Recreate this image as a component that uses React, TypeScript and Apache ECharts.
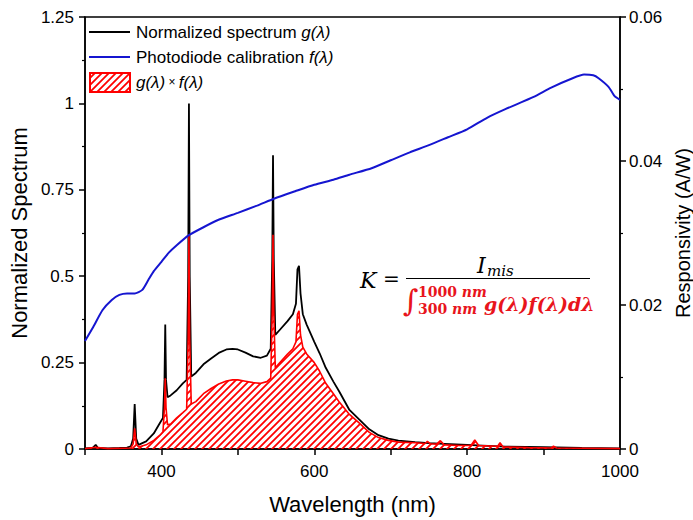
import React, { useEffect, useRef } from 'react';
import * as echarts from 'echarts';

// Normalized spectrum g(λ) (left axis)
const specWl = [300, 310, 314, 317, 330, 345, 355, 360, 363, 365, 367, 370, 380, 390, 398, 402, 404, 405, 406, 408, 412, 420, 428, 433, 435, 436, 437, 439, 445, 455, 465, 475, 485, 493, 500, 510, 520, 530, 538, 543, 545, 546, 547, 549, 555, 565, 572, 576, 578, 580, 582, 585, 590, 600, 607, 615, 625, 633, 646, 659, 672, 684, 697, 710, 732, 750, 770, 800, 820, 850, 900, 950, 1000];
const specVal = [0.002, 0.003, 0.012, 0.003, 0.002, 0.003, 0.004, 0.008, 0.03, 0.13, 0.03, 0.012, 0.022, 0.045, 0.075, 0.09, 0.2, 0.36, 0.2, 0.15, 0.155, 0.17, 0.19, 0.2, 0.5, 1.0, 0.5, 0.21, 0.22, 0.245, 0.262, 0.278, 0.288, 0.29, 0.288, 0.279, 0.268, 0.264, 0.27, 0.29, 0.55, 0.85, 0.55, 0.33, 0.345, 0.37, 0.39, 0.42, 0.52, 0.53, 0.45, 0.39, 0.36, 0.31, 0.277, 0.235, 0.195, 0.165, 0.113, 0.085, 0.057, 0.04, 0.03, 0.024, 0.02, 0.017, 0.015, 0.012, 0.01, 0.007, 0.005, 0.003, 0.002];

// Product g(λ)×f(λ) (left axis units)
const prodWl = [300, 314, 330, 360, 363, 365, 367, 370, 380, 390, 398, 402, 404, 405, 406, 408, 412, 420, 428, 433, 435, 436, 437, 439, 445, 455, 465, 475, 485, 493, 500, 510, 520, 530, 538, 543, 545, 546, 547, 549, 555, 565, 572, 576, 578, 580, 582, 585, 590, 600, 607, 615, 625, 633, 646, 659, 672, 684, 697, 710, 732, 745, 748, 752, 760, 765, 770, 790, 805, 810, 815, 840, 843, 847, 880, 910, 913, 917, 950, 1000];
const prodVal = [0.001, 0.005, 0.001, 0.003, 0.015, 0.06, 0.015, 0.006, 0.012, 0.025, 0.04, 0.05, 0.12, 0.205, 0.12, 0.07, 0.072, 0.09, 0.105, 0.115, 0.32, 0.62, 0.32, 0.13, 0.137, 0.16, 0.175, 0.188, 0.197, 0.2, 0.2, 0.196, 0.192, 0.19, 0.195, 0.205, 0.4, 0.62, 0.4, 0.235, 0.25, 0.275, 0.29, 0.31, 0.39, 0.4, 0.33, 0.295, 0.275, 0.25, 0.225, 0.19, 0.16, 0.135, 0.1, 0.075, 0.048, 0.033, 0.025, 0.02, 0.018, 0.016, 0.022, 0.015, 0.014, 0.024, 0.012, 0.01, 0.01, 0.026, 0.01, 0.008, 0.018, 0.006, 0.004, 0.003, 0.008, 0.003, 0.002, 0.001];

// Photodiode calibration f(λ) (right axis, A/W)
const respWl = [300, 310, 323, 335, 345, 355, 365, 375, 383, 390, 400, 410, 420, 436, 455, 474, 500, 525, 548, 575, 600, 625, 646, 675, 700, 725, 750, 775, 800, 826, 850, 887, 910, 938, 953, 965, 972, 985, 993, 1000];
const respVal = [0.015, 0.0168, 0.0193, 0.0207, 0.0214, 0.0216, 0.0216, 0.0221, 0.0235, 0.0247, 0.026, 0.0273, 0.0283, 0.0297, 0.0308, 0.0318, 0.0328, 0.0338, 0.0348, 0.0358, 0.0367, 0.0374, 0.0381, 0.039, 0.0401, 0.0412, 0.0422, 0.0433, 0.0444, 0.046, 0.0472, 0.0489, 0.0502, 0.0515, 0.052, 0.0519, 0.0515, 0.0503, 0.049, 0.0485];

const legendNames = ['Normalized spectrum ', 'Photodiode calibration '];

const FONT = '"Liberation Sans", Arial, sans-serif';
const SERIF = '"DejaVu Serif", "Liberation Serif", serif';
const RED = '#ff0000';
const FRED = '#e8141c';
const BLUE = '#1515d0';

export default function App() {
  const ref = useRef<HTMLDivElement>(null);
  useEffect(() => {
    document.body.style.margin = '0';
    const el = ref.current!;
    const chart = echarts.init(el, null, { renderer: 'svg', width: 693, height: 520 });

    const cv = document.createElement('canvas');
    const S = 7;
    cv.width = S;
    cv.height = S;
    const ctx = cv.getContext('2d')!;
    ctx.strokeStyle = RED;
    ctx.lineWidth = 1.8;
    ctx.beginPath();
    ctx.moveTo(0, S); ctx.lineTo(S, 0);
    ctx.moveTo(-1, 1); ctx.lineTo(1, -1);
    ctx.moveTo(S - 1, S + 1); ctx.lineTo(S + 1, S - 1);
    ctx.stroke();
    const hatch: any = { image: cv, repeat: 'repeat', imageWidth: S, imageHeight: S };

    const zip = (a: number[], b: number[]) => a.map((v, i) => [v, b[i]]);

    const axisCommon = {
      axisLine: { show: true, lineStyle: { color: '#000', width: 1.5 } },
      axisTick: { show: true, length: 6, lineStyle: { color: '#000', width: 1.5 } },
      minorTick: { show: true, splitNumber: 2, length: 3, lineStyle: { color: '#000', width: 1.2 } },
      splitLine: { show: false },
      minorSplitLine: { show: false },
      axisLabel: { color: '#000', fontSize: 17, fontFamily: FONT },
      nameTextStyle: { color: '#000', fontSize: 22, fontFamily: FONT },
    };

    const option: any = {
      animation: false,
      textStyle: { fontFamily: FONT },
      grid: {
        left: 85, right: 73, top: 17, bottom: 71, containLabel: false, outerBoundsMode: 'none',
        show: true, borderColor: '#000', borderWidth: 1.5, backgroundColor: 'transparent',
      },
      xAxis: {
        type: 'value', min: 300, max: 1000, interval: 100,
        ...axisCommon,
        minorTick: { show: false },
        axisLabel: { ...axisCommon.axisLabel, margin: 14, formatter: (v: number) => (v % 200 === 0 ? String(v) : '') },
        name: 'Wavelength (nm)', nameLocation: 'middle', nameGap: 44,
      },
      yAxis: [
        {
          type: 'value', min: 0, max: 1.25, interval: 0.25, position: 'left',
          ...axisCommon,
          axisLabel: { ...axisCommon.axisLabel, margin: 11 },
          name: 'Normalized Spectrum', nameLocation: 'middle', nameGap: 52,
        },
        {
          type: 'value', min: 0, max: 0.06, interval: 0.02, position: 'right',
          ...axisCommon,
          axisLabel: { ...axisCommon.axisLabel, margin: 9 },
          name: 'Responsivity (A/W)', nameLocation: 'middle', nameGap: 43,
          nameTextStyle: { color: '#000', fontSize: 20, fontFamily: FONT },
        },
      ],
      series: [
        {
          type: 'line', name: 'g', yAxisIndex: 0, data: zip(specWl, specVal), showSymbol: false,
          lineStyle: { color: '#000', width: 1.8 }, z: 2,
        },
        {
          type: 'line', name: 'gf', yAxisIndex: 0, data: zip(prodWl, prodVal), showSymbol: false,
          lineStyle: { color: RED, width: 1.6 }, areaStyle: { color: hatch, opacity: 1, origin: 'start' }, z: 3,
        },
        {
          type: 'line', name: 'f', yAxisIndex: 1, data: zip(respWl, respVal), showSymbol: false, smooth: 0.2,
          lineStyle: { color: BLUE, width: 2 }, z: 4,
        },
      ],
      graphic: [
        { type: 'line', shape: { x1: 89, y1: 32, x2: 130, y2: 32 }, style: { stroke: '#000', lineWidth: 2 } },
        {
          type: 'text', x: 136, y: 32,
          style: {
            text: '{n|' + legendNames[0] + '}{i|g(λ)}', verticalAlign: 'middle',
            rich: { n: { fontSize: 17, fontFamily: FONT, fill: '#000' }, i: { fontSize: 17, fontFamily: FONT, fontStyle: 'italic', fill: '#000' } },
          },
        },
        { type: 'line', shape: { x1: 89, y1: 57, x2: 130, y2: 57 }, style: { stroke: BLUE, lineWidth: 2 } },
        {
          type: 'text', x: 136, y: 57,
          style: {
            text: '{n|' + legendNames[1] + '}{i|f(λ)}', verticalAlign: 'middle',
            rich: { n: { fontSize: 17, fontFamily: FONT, fill: '#000' }, i: { fontSize: 17, fontFamily: FONT, fontStyle: 'italic', fill: '#000' } },
          },
        },
        { type: 'rect', shape: { x: 90, y: 73, width: 40, height: 19 }, style: { fill: hatch, stroke: RED, lineWidth: 2 } },
        {
          type: 'text', x: 136, y: 82,
          style: {
            text: '{i|g(λ)}{x| × }{i|f(λ)}', verticalAlign: 'middle',
            rich: { i: { fontSize: 17, fontFamily: FONT, fontStyle: 'italic', fill: '#000' }, x: { fontSize: 12, fontFamily: FONT, fill: '#000' } },
          },
        },
        // formula
        { type: 'text', x: 360, y: 280, style: { text: 'K', font: 'italic 22px ' + SERIF, fill: '#000', verticalAlign: 'middle' } },
        { type: 'text', x: 383, y: 279, style: { text: '=', font: '20px ' + SERIF, fill: '#000', verticalAlign: 'middle' } },
        { type: 'line', shape: { x1: 406, y1: 278.5, x2: 590, y2: 278.5 }, style: { stroke: '#000', lineWidth: 1 } },
        { type: 'text', x: 477, y: 265, style: { text: 'I', font: 'italic 22px ' + SERIF, fill: '#000', verticalAlign: 'middle' } },
        { type: 'text', x: 487, y: 271, style: { text: 'mis', font: 'italic 15px ' + SERIF, fill: '#000', verticalAlign: 'middle' } },
        { type: 'text', x: 403, y: 300, style: { text: '∫', font: '30px ' + SERIF, fill: FRED, verticalAlign: 'middle' } },
        {
          type: 'text', x: 418, y: 292,
          style: { text: '{b|1000 }{i|nm}', verticalAlign: 'middle', rich: { b: { font: 'bold 14px ' + SERIF, fill: FRED }, i: { font: 'bold italic 14px ' + SERIF, fill: FRED } } },
        },
        {
          type: 'text', x: 418, y: 309,
          style: { text: '{b|300 }{i|nm}', verticalAlign: 'middle', rich: { b: { font: 'bold 14px ' + SERIF, fill: FRED }, i: { font: 'bold italic 14px ' + SERIF, fill: FRED } } },
        },
        { type: 'text', x: 484, y: 304, style: { text: 'g(λ)f(λ)dλ', font: 'bold italic 19px ' + SERIF, fill: FRED, verticalAlign: 'middle' } },
      ],
    };
    chart.setOption(option);
    return () => chart.dispose();
  }, []);
  return <div ref={ref} style={{ position: 'absolute', left: 0, top: 0, width: 693, height: 520 }} />;
}
